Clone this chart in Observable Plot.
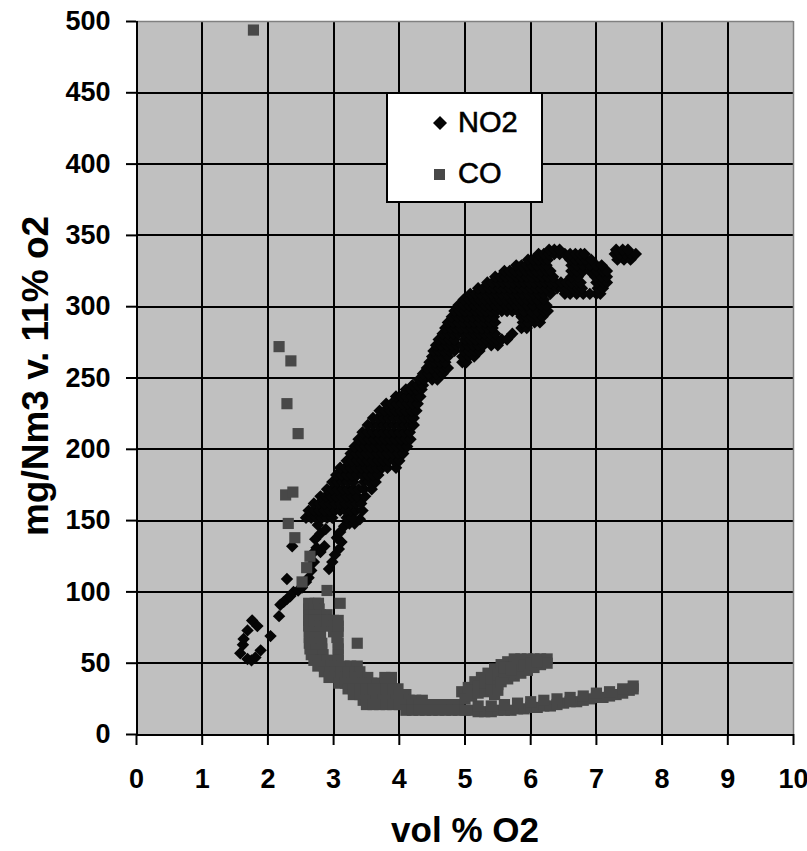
<!DOCTYPE html>
<html><head><meta charset="utf-8">
<script src="https://cdn.jsdelivr.net/npm/d3@7"></script>
<script src="https://cdn.jsdelivr.net/npm/@observablehq/plot@0.6"></script>
<style>
html,body{margin:0;padding:0;background:#fff;}
#wrap{position:relative;width:807px;height:851px;font-family:"Liberation Sans",Arial,sans-serif;}
#legend{position:absolute;left:386px;top:92px;}
</style></head><body>
<div id="wrap"></div>
<script>
const seriesNames = ["NO2", "CO"];
const xTitle = "vol % O2";
const yTitle = "mg/Nm3 v. 11% o2";
const xTicks = [0,1,2,3,4,5,6,7,8,9,10];
const yTicks = [0,50,100,150,200,250,300,350,400,450,500];
const xGrid = [1,2,3,4,5,6,7,8,9];
const yGrid = [50,100,150,200,250,300,350,400,450];

// NO2: scattered points
const no2Extra = [[1.58,57],[1.62,63],[1.63,67],[1.69,73],[1.76,80],[1.84,76],[1.69,53],[1.75,52],[1.81,54],[1.89,59],[2.04,69],[2.17,83],[2.19,91],[2.24,93],[2.29,95],[2.34,97],[2.39,100],[2.46,101],[2.52,103],[2.58,107],[2.29,109],[2.37,132],[2.62,110],[2.66,115],[2.7,121],[2.68,127],[2.74,131],[2.8,128],[2.86,132],[2.72,137],[2.8,141],[2.88,144],[2.76,147],[2.93,116],[2.98,121],[3.02,126],[3.08,130],[3.12,135],[3.05,138],[3.1,142],[3.16,146],[3.24,148],[3.32,148],[3.4,151]];
// NO2: dense band, rows of [y, x values]
const no2Rows = [
[152,[2.58,2.66,2.74,2.82,2.9,2.98,3.2,3.28]],
[157,[2.62,2.7,2.78,2.86,2.94,3.02,3.1,3.18,3.26,3.34,3.44]],
[162,[2.7,2.78,2.86,2.94,3.02,3.1,3.18,3.26,3.34,3.42]],
[167,[2.8,2.88,2.96,3.04,3.12,3.2,3.28,3.36,3.48]],
[172,[2.9,2.98,3.06,3.14,3.22,3.3,3.38,3.46,3.58]],
[177,[2.98,3.06,3.14,3.22,3.3,3.46,3.54,3.64]],
[182,[3.04,3.12,3.2,3.28,3.36,3.44,3.52,3.6,3.68]],
[187,[3.1,3.18,3.26,3.34,3.42,3.5,3.58,3.66,3.74,3.82,3.95]],
[192,[3.2,3.28,3.36,3.44,3.52,3.6,3.68,3.76,3.84,3.92,4.0]],
[197,[3.26,3.34,3.42,3.5,3.58,3.66,3.74,3.82,3.9,3.98,4.06]],
[202,[3.32,3.4,3.48,3.56,3.64,3.72,3.8,3.88,3.96,4.04,4.12]],
[207,[3.38,3.46,3.54,3.62,3.7,3.78,3.86,3.94,4.02,4.1,4.17]],
[212,[3.44,3.52,3.6,3.68,3.76,3.84,3.92,4.0,4.08,4.16]],
[217,[3.52,3.6,3.68,3.76,3.84,3.92,4.0,4.08,4.16,4.22]],
[222,[3.6,3.68,3.76,3.84,3.92,4.0,4.08,4.16,4.22]],
[227,[3.7,3.78,3.86,3.94,4.02,4.1,4.18,4.26]],
[232,[3.8,3.88,3.96,4.04,4.12,4.2,4.28]],
[237,[3.95,4.03,4.11,4.19,4.27,4.32]],
[242,[4.1,4.18,4.26,4.34]],
[245,[4.2,4.28,4.36]],
[249,[4.3,4.38,4.5,4.58]],
[253,[4.36,4.44,4.56,4.66]],
[257,[4.42,4.5,4.58,4.66,4.74]],
[261,[4.46,4.54,4.62,4.7,4.96,5.02]],
[265,[4.5,4.58,4.66,4.74,4.96,5.06,5.14]],
[269,[4.52,4.6,4.68,4.76,4.84,4.98,5.06,5.14,5.22]],
[273,[4.56,4.64,4.72,4.8,4.88,4.96,5.04,5.12,5.2,5.28,5.4,5.5]],
[277,[4.6,4.68,4.76,4.84,5.0,5.08,5.16,5.24,5.32,5.4,5.48,5.56,5.64]],
[281,[4.66,4.74,4.82,4.9,4.98,5.06,5.14,5.22,5.3,5.38,5.46,5.72]],
[285,[4.7,4.78,4.86,4.94,5.02,5.1,5.18,5.26,5.34,5.42,5.86,5.94]],
[289,[4.74,4.82,4.9,4.98,5.06,5.14,5.22,5.3,5.38,5.46,5.88,5.96,6.06,6.14]],
[293,[4.8,4.88,4.96,5.04,5.12,5.2,5.28,5.36,5.44,5.86,5.94,6.02,6.1,6.18]],
[297,[4.84,4.92,5.0,5.08,5.16,5.24,5.32,5.4,5.48,5.56,5.64,5.72,5.8,5.9,6.0,6.1,6.2,6.26]],
[301,[4.9,4.98,5.06,5.14,5.22,5.3,5.38,5.46,5.54,5.62,5.7,5.78,5.86,5.94,6.04,6.16,6.24]],
[305,[4.98,5.06,5.14,5.22,5.3,5.38,5.46,5.54,5.62,5.7,5.78,5.86,5.94,6.02,6.1,6.2]],
[309,[5.08,5.16,5.24,5.32,5.4,5.48,5.56,5.64,5.72,5.8,5.88,5.96,6.04,6.12,6.2,6.3,6.52,6.6,6.7,6.8,6.9,7.0,7.06]],
[313,[5.2,5.28,5.36,5.44,5.52,5.6,5.68,5.76,5.84,5.92,6.0,6.08,6.16,6.24,6.32,6.4,6.48,6.56,6.64,6.72,6.78,7.02,7.1]],
[317,[5.34,5.42,5.5,5.58,5.66,5.74,5.82,5.9,5.98,6.06,6.14,6.22,6.3,6.38,6.46,6.54,6.62,6.7,6.76,7.0,7.1,7.16]],
[321,[5.46,5.54,5.62,5.7,5.78,5.86,5.94,6.02,6.1,6.18,6.26,6.34,6.62,6.72,6.98,7.08,7.16]],
[325,[5.6,5.68,5.76,5.84,5.92,6.0,6.08,6.16,6.24,6.3,6.62,6.7,6.8,6.9,7.0,7.1,7.16]],
[329,[5.78,5.86,5.94,6.02,6.1,6.18,6.24,6.62,6.7,6.8,6.9,7.0,7.08]],
[333,[5.96,6.04,6.12,6.2,6.26,6.6,6.68,6.76,6.84,6.92,7.32,7.42,7.52]],
[337,[6.12,6.2,6.28,6.36,6.44,6.52,6.6,6.68,6.76,6.82,7.28,7.36,7.44,7.52,7.6]],
[340,[6.28,6.36,6.44,7.3,7.4,7.48]]
];

// CO: scattered points
const coExtra = [[1.78,494],[2.17,272],[2.35,262],[2.29,232],[2.46,211],[2.27,168],[2.38,170],[2.31,148],[2.41,138],[2.64,125],[2.59,117],[2.52,107],[2.9,101],[3.1,92],[3.36,64]];
// CO: dense curve, rows of [y, x values]
const coRows = [
[92,[2.62,2.72,2.77]],
[88,[2.62,2.7,2.78]],
[84,[2.62,2.7,2.8,2.9]],
[80,[2.62,2.7,2.8,2.9,3.0,3.07]],
[76,[2.62,2.7,2.8,2.9,3.0,3.07]],
[72,[2.63,2.72,2.8,3.0,3.07]],
[68,[2.63,2.72,2.8,3.05]],
[64,[2.63,2.72,2.82,3.07]],
[60,[2.64,2.74,2.82,3.07]],
[56,[2.66,2.76,2.84,3.07]],
[52,[2.7,2.8,2.9,3.0,3.07]],
[48,[2.76,2.86,2.96,3.06,3.16,3.26,3.36]],
[44,[2.86,2.94,3.02,3.12,3.22,3.32,3.4]],
[40,[2.93,3.02,3.12,3.22,3.32,3.42,3.52,3.78,3.88]],
[36,[3.08,3.18,3.28,3.38,3.48,3.58,3.66,3.78,3.88]],
[32,[3.22,3.3,3.4,3.5,3.6,3.7,3.8,3.9,3.98]],
[28,[3.3,3.4,3.5,3.6,3.7,3.8,3.9,4.0,4.1]],
[24,[3.45,3.55,3.65,3.75,3.85,3.95,4.05,4.15,4.25,4.35]],
[21,[3.5,3.6,3.7,3.8,3.9,4.0,4.1,4.2,4.3,4.4,4.5,4.6,4.7,4.8,4.9]],
[17,[4.1,4.2,4.3,4.4,4.5,4.6,4.7,4.8,4.9,5.0,5.1]]
];
const coBandLower = [[5.2,16],[5.3,16],[5.4,16],[5.5,17],[5.6,17],[5.7,17],[5.8,18],[5.9,18],[6.0,19],[6.1,19],[6.2,20],[6.3,20],[6.4,21],[6.5,22],[6.6,23],[6.7,23],[6.8,24],[6.9,25],[7.0,26],[7.1,26],[7.2,27],[7.3,28],[7.4,29],[7.5,31],[7.56,32]];
const coBandUpper = [[5.2,20],[5.4,20],[5.6,21],[5.8,22],[6.0,23],[6.2,24],[6.4,25],[6.6,26],[6.8,27],[7.0,29],[7.2,30],[7.4,32],[7.56,34]];
const coBranch = [[4.95,30],[5.05,33],[5.15,37],[5.25,40],[5.35,43],[5.45,46],[5.55,49],[5.65,51],[5.75,53],[5.85,53],[5.95,53],[6.05,53],[6.15,53],[6.25,53],[5.0,25],[5.1,27],[5.1,31],[5.2,29],[5.2,34],[5.3,30],[5.3,36],[5.4,32],[5.4,39],[5.45,28],[5.5,35],[5.5,42],[5.5,31],[5.55,37],[5.65,39],[5.75,41],[5.85,43],[5.95,45],[6.05,47],[6.15,49],[6.25,50],[5.6,44],[5.7,47],[5.8,48],[5.9,49],[6.0,50],[6.1,51],[5.6,47],[5.7,45]];

const fromRows = rows => rows.flatMap(([y, xs]) => xs.map(x => ({x, y})));
const fromPairs = pairs => pairs.map(([x, y]) => ({x, y}));
const no2 = [...fromPairs(no2Extra), ...fromRows(no2Rows)];
const co = [...fromPairs(coExtra), ...fromRows(coRows), ...fromPairs(coBandLower), ...fromPairs(coBandUpper), ...fromPairs(coBranch)];

const font = '"Liberation Sans", Arial, sans-serif';
const chart = Plot.plot({
  width: 807, height: 851,
  marginLeft: 136, marginRight: 14, marginTop: 21, marginBottom: 117,
  x: {domain: [0, 10]},
  y: {domain: [0, 500]},
  style: {fontFamily: font, fontSize: "27px", background: "#fff", color: "#000", overflow: "visible"},
  marks: [
    Plot.frame({fill: "#c0c0c0", stroke: "none"}),
    Plot.gridX(xGrid, {stroke: "#000", strokeOpacity: 1, strokeWidth: 2, shapeRendering: "crispEdges"}),
    Plot.gridY(yGrid, {stroke: "#000", strokeOpacity: 1, strokeWidth: 2, shapeRendering: "crispEdges"}),
    Plot.ruleY([500], {stroke: "#808080", strokeWidth: 1.5}),
    Plot.ruleX([10], {stroke: "#808080", strokeWidth: 1.5}),
    Plot.dot(no2, {x: "x", y: "y", symbol: "diamond2", r: 5.6, fill: "#050505", stroke: "none"}),
    Plot.dot(co, {x: "x", y: "y", symbol: "square", r: 6.3, fill: "#484848", stroke: "none"}),
    Plot.ruleX([0], {stroke: "#000", strokeWidth: 2, shapeRendering: "crispEdges"}),
    Plot.ruleY([0], {stroke: "#000", strokeWidth: 2, shapeRendering: "crispEdges"}),
    Plot.axisX(xTicks, {tickSize: 11, tickPadding: 23, strokeWidth: 2, label: null, fontSize: 27, fontWeight: "bold", tickFormat: d => String(d)}),
    Plot.axisY(yTicks, {tickSize: 10, tickPadding: 16, strokeWidth: 2, label: null, fontSize: 27, fontWeight: "bold", tickFormat: d => String(d)}),
    Plot.text([xTitle], {text: d => d, frameAnchor: "bottom", textAnchor: "middle", lineAnchor: "middle", dy: 96, fontSize: 35, fontWeight: "bold"}),
    Plot.text([yTitle], {text: d => d, frameAnchor: "left", textAnchor: "middle", lineAnchor: "middle", dx: -100, dy: -2, rotate: -90, fontSize: 37, fontWeight: "bold"})
  ]
});
const wrap = document.getElementById("wrap");
wrap.appendChild(chart);

// legend box
const leg = d3.create("svg").attr("id", "legend").attr("width", 157).attr("height", 111);
leg.append("rect").attr("x", 1).attr("y", 1).attr("width", 155).attr("height", 109)
  .attr("fill", "#fff").attr("stroke", "#000").attr("stroke-width", 2);
leg.append("path").attr("d", "M54,24L61,31L54,38L47,31Z").attr("fill", "#050505");
leg.append("rect").attr("x", 48).attr("y", 77).attr("width", 11).attr("height", 11).attr("fill", "#484848");
leg.selectAll("text.lab").data(seriesNames).join("text").attr("class", "lab")
  .attr("x", 72).attr("y", (d, i) => i === 0 ? 40 : 91)
  .attr("font-family", font).attr("font-size", 29).attr("fill", "#000")
  .attr("stroke", "#000").attr("stroke-width", 0.6).text(d => d);
wrap.appendChild(leg.node());
</script></body></html>
